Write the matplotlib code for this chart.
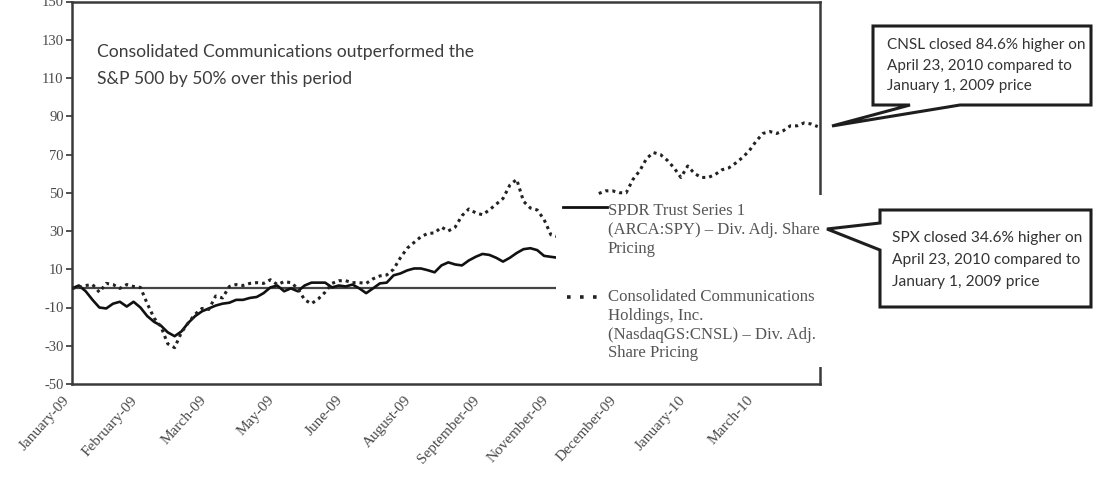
import numpy as np
import matplotlib
matplotlib.use("Agg")
import matplotlib.pyplot as plt
from matplotlib.patches import Polygon, Rectangle
from matplotlib.lines import Line2D

plt.rcParams['axes.unicode_minus'] = False

# ---------------- data (percent change since Jan 2009, sampled every 3 trading days) ----------------
spy = [0, 1.5, -1.5, -6, -10, -10.5, -8, -7, -9.5, -7,
       -10, -14.5, -17.5, -19.5, -23, -25, -22.5, -18, -14.5, -12,
       -10.5, -9, -8, -7.5, -6, -6, -5, -4.5, -2.5, 0.5,
       1.5, -1.5, 0, -1.5, 1.5, 3, 3, 3, 0.5, 1.5,
       1, 2, 0, -2.5, 0, 2.6, 3, 6.8, 7.8, 9.4,
       10.4, 10.4, 9.5, 8.4, 12, 13.6, 12.5, 12, 14.6, 16.5,
       18, 17.5, 16, 14, 16, 18.5, 20.5, 21, 20, 17,
       16.5, 16]

nan = float('nan')
cnsl = [0, 0.5, 1.5, 2, -2, 2.6, 2, 0, 2, 1,
        0.5, -8, -15.5, -20, -29, -31, -23, -18, -13.5, -10.5,
        -11, -4, -5, 1, 2, 1.5, 2.6, 3, 2.6, 4.5,
        2, 3.5, 3, 0, -6, -8, -5.5, -2, 2.6, 4,
        4, 3, 3, 2.6, 5, 6.5, 7, 10, 16, 21,
        24, 27, 28.7, 29, 32, 30, 32, 38, 41.5, 39.5,
        38.5, 41, 44, 47, 54, 57, 45.5, 42, 41, 36,
        28, 27, nan, nan, nan, nan, nan, 49.6, 51, 51,
        50, 50, 57, 61.6, 68, 71, 70, 67, 63, 58,
        64, 60, 58, 58, 59.5, 62, 63, 65.5, 68.4, 72,
        77, 81, 82, 81, 82.5, 85, 85, 86.5, 86, 84.6]

day_step = 3  # trading days between samples
x_tick_days = [0, 30, 60, 90, 120, 150, 180, 210, 240, 270, 300]
x_tick_labels = ['January-09', 'February-09', 'March-09', 'May-09', 'June-09',
                 'August-09', 'September-09', 'November-09', 'December-09',
                 'January-10', 'March-10']
y_ticks = [-50, -30, -10, 10, 30, 50, 70, 90, 110, 130, 150]
y_tick_labels = ['-50', '-30', '-10', '10', '30', '50', '70', '90', '110', '130', '150']

note_lines = ['Consolidated Communications outperformed the',
              'S&P 500 by 50% over this period']
spy_legend = ['SPDR Trust Series 1', '(ARCA:SPY) – Div. Adj. Share', 'Pricing']
cnsl_legend = ['Consolidated Communications', 'Holdings, Inc.',
               '(NasdaqGS:CNSL) – Div. Adj.', 'Share Pricing']
cnsl_call = ['CNSL closed 84.6% higher on', 'April 23, 2010 compared to',
             'January 1, 2009 price']
spx_call = ['SPX closed 34.6% higher on', 'April 23, 2010 compared to',
            'January 1, 2009 price']

# ---------------- figure ----------------
W, H = 1094, 496
fig = plt.figure(figsize=(W / 100, H / 100), dpi=100)
fx = lambda px: px / W
fy = lambda py: 1 - py / H

ax = fig.add_axes([fx(72), fy(384), (820 - 72) / W, (384 - 1.5) / H])

spy_days = np.arange(len(spy)) * day_step
cnsl_days = np.arange(len(cnsl)) * day_step

ax.axhline(0, color='#454545', lw=1.6, zorder=2)
ax.plot(spy_days, spy, color='#111111', lw=1.9, solid_joinstyle='round', zorder=3)
ax.plot(cnsl_days, cnsl, color='#222222', lw=2.2, linestyle=(0, (1.0, 1.3)),
        dash_capstyle='butt', zorder=3)

ax.set_xlim(0, 328)
ax.set_ylim(-50, 150)
ax.set_yticks(y_ticks)
ax.set_yticklabels(y_tick_labels, family='Liberation Serif', fontsize=10.5, color='#4a4a4a')
ax.set_xticks(x_tick_days)
ax.set_xticklabels(x_tick_labels, family='Liberation Serif', fontsize=11, color='#4a4a4a',
                   rotation=48, ha='right', va='top')
ax.tick_params(axis='x', length=0, pad=7)
ax.tick_params(axis='y', length=4, width=1.2, color='#333333', pad=2)
for s in ax.spines.values():
    s.set_color('#3a3a3a')
    s.set_linewidth(1.8)

# white area carrying the legend (covers the lines behind it)
fig.add_artist(Rectangle((fx(556), fy(367)), (833 - 556) / W, (367 - 195) / H,
                         transform=fig.transFigure, facecolor='white',
                         edgecolor='none', zorder=5))

fig.add_artist(Line2D([fx(563), fx(607)], [fy(207), fy(207)], transform=fig.transFigure,
                      color='#111111', lw=2.0, zorder=6))
fig.add_artist(Line2D([fx(567), fx(602)], [fy(297), fy(297)], transform=fig.transFigure,
                      color='#222222', lw=2.6, linestyle=(0, (1, 2.6)),
                      dash_capstyle='butt', zorder=6))

renderer = fig.canvas.get_renderer()


def put_lines(lines, x, ys, family, size, color, fit_idx=None, fit_px=None):
    ts = [fig.text(fx(x), fy(y), t, family=family, fontsize=size, color=color,
                   ha='left', va='center', zorder=8) for t, y in zip(lines, ys)]
    if fit_idx is not None:
        w = ts[fit_idx].get_window_extent(renderer=renderer).width
        for t in ts:
            t.set_fontsize(size * fit_px / w)
    return ts


serif = ['Liberation Serif', 'DejaVu Serif']
sans = ['Lato', 'DejaVu Sans']

put_lines(spy_legend, 608, [211, 230, 249], serif, 12, '#555555', 1, 212)
put_lines(cnsl_legend, 608, [297, 316, 335, 353], serif, 12, '#555555', 2, 208)

put_lines(note_lines, 97, [52, 79], sans, 12, '#3d3d3d', 0, 376)

# callout boxes
box1 = [(873, 26), (1091, 26), (1091, 105), (960, 105), (832, 126), (910, 105), (873, 105)]
box2 = [(880, 210), (1091, 210), (1091, 307), (880, 307), (880, 250), (827, 229), (880, 223)]
for pts in (box1, box2):
    fig.add_artist(Polygon([(fx(a), fy(b)) for a, b in pts], closed=True,
                           transform=fig.transFigure, facecolor='white',
                           edgecolor='#1e1e1e', lw=2.2, joinstyle='miter', zorder=7))

put_lines(cnsl_call, 887, [45, 66, 86], sans, 11, '#333333', 0, 199)
put_lines(spx_call, 892, [238, 260, 282], sans, 11, '#333333', 0, 190)

fig.savefig('out.png', dpi=100, facecolor='white')
